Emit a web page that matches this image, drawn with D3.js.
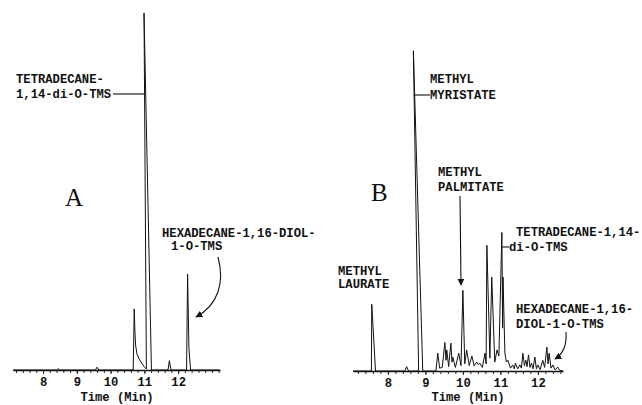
<!DOCTYPE html>
<html>
<head>
<meta charset="utf-8">
<script src="https://cdn.jsdelivr.net/npm/d3@7"></script>
<style>
  body { margin: 0; background: #fff; }
  svg text { font-family: "Liberation Mono", "DejaVu Sans Mono", monospace; font-weight: bold; fill: #111; }
  .big { font-family: "Liberation Serif", "DejaVu Serif", serif !important; font-weight: normal !important; }
</style>
</head>
<body>
<svg id="chart" width="642" height="405"></svg>
<script>
let WIDTH = 642, HEIGHT = 405;
let FS = "12.2px";

// tick labels (minutes)
let majorTicks = [8, 9, 10, 11, 12];

// panel A trace: [time (min), relative intensity]
let traceA = [
    [7.11, 0], [8.40, 0], [8.45, 0.4], [8.50, 0], [9.55, 0], [9.60, 0.8], [9.65, 0],
    [10.67, 0], [10.70, 17.1], [10.72, 11], [10.74, 7], [10.78, 4.5], [10.85, 3],
    [10.93, 1.8], [11.00, 0.8], [11.06, 0.3], [10.99, 100], [11.21, 0],
    [11.70, 0], [11.74, 2.6], [11.79, 0],
    [12.25, 0], [12.28, 26.9], [12.32, 6], [12.37, 0], [13.24, 0]
];

// panel B trace
let traceB = [
    [7.07, 0], [7.56, 0], [7.57, 18.7], [7.67, 0],
    [8.45, 0], [8.50, 1.2], [8.55, 0],
    [8.82, 0], [8.68, 89.7], [8.93, 0],
    [9.28, 0], [9.33, 5], [9.38, 0.8], [9.45, 1], [9.52, 8], [9.55, 3], [9.57, 5.9],
    [9.62, 1.2], [9.68, 7.8], [9.71, 2.5], [9.73, 3.9], [9.80, 1], [9.89, 5],
    [9.95, 1.5], [10.00, 22.6], [10.05, 2], [10.10, 5.9], [10.17, 1.5], [10.24, 4.2],
    [10.30, 1.5], [10.37, 2.5], [10.41, 1.8], [10.45, 2.2], [10.52, 1], [10.59, 5],
    [10.62, 2], [10.64, 35.2], [10.72, 3.6], [10.77, 26.3], [10.85, 2.5],
    [10.91, 5.9], [10.96, 4.2], [11.04, 38.8], [11.06, 12], [11.07, 26.3],
    [11.12, 5], [11.16, 2.5], [11.20, 3], [11.27, 0.8], [11.33, 1.7], [11.37, 0.6],
    [11.40, 2.2], [11.46, 0.6], [11.52, 1.7], [11.56, 0.8], [11.60, 5], [11.64, 1.5],
    [11.68, 3], [11.71, 1.2], [11.75, 4.5], [11.79, 1], [11.83, 2.2], [11.87, 0.6],
    [11.92, 3.9], [11.96, 0.6], [12.00, 1.7], [12.06, 0.4], [12.13, 3], [12.18, 1],
    [12.24, 6.7], [12.27, 2], [12.30, 5], [12.35, 0.8], [12.40, 1.7], [12.46, 0.3],
    [12.53, 1.1], [12.58, 0.2], [12.67, 0]
];

let svg = d3.select("#chart");

// arrowhead marker
svg.append("defs").append("marker")
    .attr("id", "head")
    .attr("viewBox", "0 0 10 10")
    .attr("refX", 9).attr("refY", 5)
    .attr("markerWidth", 7).attr("markerHeight", 7)
    .attr("markerUnits", "userSpaceOnUse")
    .attr("orient", "auto")
    .append("path")
    .attr("d", "M0,0 L10,5 L0,10 Z")
    .attr("fill", "#111");

function drawPanel(trace, xDomain, xRange, base, top) {
    let x = d3.scaleLinear().domain(xDomain).range(xRange);
    let y = d3.scaleLinear().domain([0, 100]).range([base, top]);
    let g = svg.append("g");

    // minor ticks every 0.2 min
    let minor = d3.range(Math.ceil(xDomain[0] * 5), Math.floor(xDomain[1] * 5) + 1).map(d => d / 5);
    g.append("g")
        .attr("transform", `translate(0,${base})`)
        .call(d3.axisBottom(x).tickValues(minor).tickSize(3).tickSizeOuter(0).tickFormat(""))
        .call(a => a.select(".domain").attr("stroke", "#111").attr("stroke-width", 1.4))
        .call(a => a.selectAll(".tick line").attr("stroke", "#222"));

    // labelled ticks
    g.append("g")
        .attr("transform", `translate(0,${base})`)
        .call(d3.axisBottom(x).tickValues(majorTicks).tickSize(4).tickPadding(3).tickFormat(d3.format("d")))
        .call(a => a.select(".domain").remove())
        .call(a => a.selectAll(".tick line").attr("stroke", "#222"))
        .call(a => a.selectAll(".tick text")
            .attr("fill", "#111")
            .style("font-size", FS)
            .style("font-family", "Liberation Mono, monospace")
            .style("font-weight", "bold"));

    g.append("path")
        .datum(trace)
        .attr("fill", "none")
        .attr("stroke", "#111")
        .attr("stroke-width", 1)
        .attr("stroke-linejoin", "round")
        .attr("d", d3.line().x(d => x(d[0])).y(d => y(d[1])));

    return { x, y };
}

let A = drawPanel(traceA, [7.11, 13.24], [13, 220], 370, 13);
let B = drawPanel(traceB, [7.07, 12.67], [353, 563], 371, 14);

function label(lines, x0, y0, dy) {
    let t = svg.append("text").attr("x", x0).attr("y", y0).style("font-size", FS);
    lines.forEach((s, i) => t.append("tspan").attr("x", x0).attr("y", y0 + i * dy).text(s));
}

function line(pts, arrow) {
    let p = svg.append("path")
        .attr("d", pts)
        .attr("fill", "none")
        .attr("stroke", "#111")
        .attr("stroke-width", 1.1);
    if (arrow) p.attr("marker-end", "url(#head)");
}

// axis titles
svg.append("text").attr("x", 117).attr("y", 401).attr("text-anchor", "middle").style("font-size", FS).text("Time (Min)");
svg.append("text").attr("x", 468).attr("y", 401).attr("text-anchor", "middle").style("font-size", FS).text("Time (Min)");

// panel letters
svg.append("text").attr("class", "big").attr("x", 65).attr("y", 206).style("font-size", "25px").text("A");
svg.append("text").attr("class", "big").attr("x", 371).attr("y", 201).style("font-size", "25px").text("B");

// panel A annotations
label(["TETRADECANE-", "1,14-di-O-TMS"], 16, 83, 15);
line(`M113,94 L${A.x(10.99)},94`);
label(["HEXADECANE-1,16-DIOL-"], 162, 237, 0);
label(["1-O-TMS"], 171, 250, 0);
line("M218,257 C225,283 218,305 196,317", true);

// panel B annotations
label(["METHYL", "MYRISTATE"], 430, 83, 16);
line(`M${B.x(8.69)},95 L430,95`);
label(["METHYL", "PALMITATE"], 438, 176, 15);
line("M460,196 L461,285", true);
label(["METHYL", "LAURATE"], 338, 275, 13);
label(["TETRADECANE-1,14-"], 516, 236, 0);
label(["di-O-TMS"], 509, 251, 0);
line(`M${B.x(11.04)},247 L509,247`);
label(["HEXADECANE-1,16-", "DIOL-1-O-TMS"], 516, 313, 15);
line("M566,332 C567,346 563,354 555,359", true);
</script>
</body>
</html>
